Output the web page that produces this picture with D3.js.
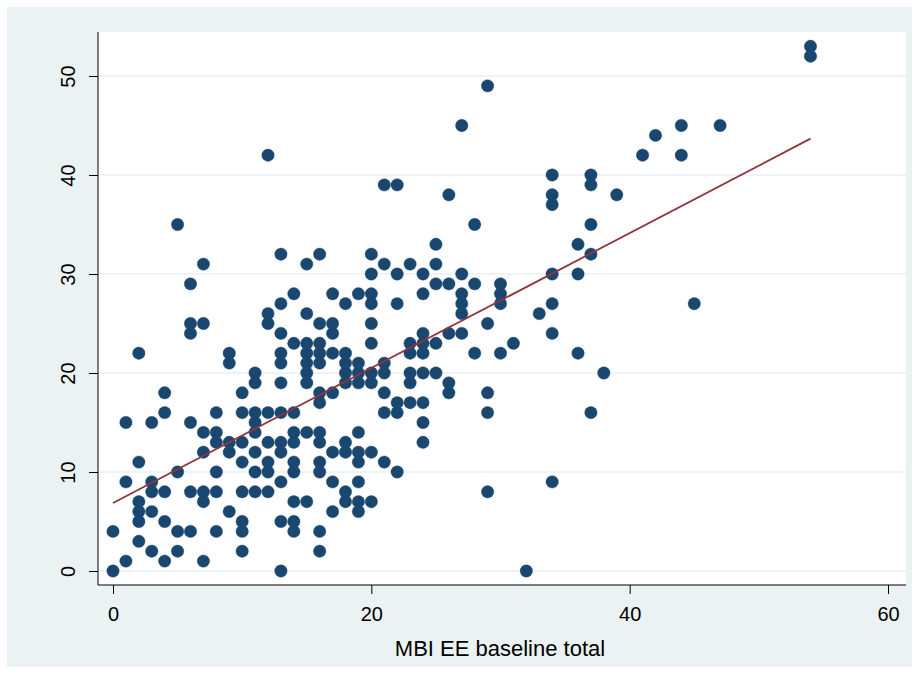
<!DOCTYPE html>
<html>
<head>
<meta charset="utf-8">
<script src="https://cdn.jsdelivr.net/npm/d3@7"></script>
<style>
  html, body { margin: 0; padding: 0; background: #ffffff; }
  svg { display: block; }
  text { font-family: "Liberation Sans", Arial, Helvetica, sans-serif; fill: #000; }
</style>
</head>
<body>
<svg id="chart" width="915" height="673"></svg>
<script>
// MBI emotional exhaustion: baseline total (x) against follow-up total (y)
const baselineEE = [
  0, 0,
  1, 1, 1,
  2, 2, 2, 2, 2, 2,
  3, 3, 3, 3, 3,
  4, 4, 4, 4, 4,
  5, 5, 5, 5,
  6, 6, 6, 6, 6, 6,
  7, 7, 7, 7, 7, 7, 7,
  8, 8, 8, 8, 8, 8,
  9, 9, 9, 9, 9,
  10, 10, 10, 10, 10, 10, 10, 10,
  11, 11, 11, 11, 11, 11, 11, 11,
  12, 12, 12, 12, 12, 12, 12, 12,
  13, 13, 13, 13, 13, 13, 13, 13, 13, 13, 13, 13,
  14, 14, 14, 14, 14, 14, 14, 14, 14, 14,
  15, 15, 15, 15, 15, 15, 15, 15, 15,
  16, 16, 16, 16, 16, 16, 16, 16, 16, 16, 16, 16, 16,
  17, 17, 17, 17, 17, 17, 17, 17,
  18, 18, 18, 18, 18, 18, 18, 18, 18,
  19, 19, 19, 19, 19, 19, 19, 19, 19, 19,
  20, 20, 20, 20, 20, 20, 20, 20, 20, 20,
  21, 21, 21, 21, 21, 21, 21,
  22, 22, 22, 22, 22, 22,
  23, 23, 23, 23, 23, 23,
  24, 24, 24, 24, 24, 24, 24, 24, 24,
  25, 25, 25, 25, 25,
  26, 26, 26, 26, 26,
  27, 27, 27, 27, 27, 27,
  28, 28, 28,
  29, 29, 29, 29, 29,
  30, 30, 30, 30,
  31,
  32,
  33,
  34, 34, 34, 34, 34, 34, 34,
  36, 36, 36,
  37, 37, 37, 37, 37,
  38,
  39,
  41,
  42,
  44, 44,
  45,
  47,
  54, 54
];

const followupEE = [
  0, 4,
  1, 9, 15,
  3, 5, 6, 7, 11, 22,
  2, 6, 8, 9, 15,
  1, 5, 8, 16, 18,
  2, 4, 10, 35,
  4, 8, 15, 24, 25, 29,
  1, 7, 8, 12, 14, 25, 31,
  4, 8, 10, 13, 14, 16,
  6, 12, 13, 21, 22,
  2, 4, 5, 8, 11, 13, 16, 18,
  8, 10, 12, 14, 15, 16, 19, 20,
  8, 10, 11, 13, 16, 25, 26, 42,
  0, 5, 9, 12, 13, 16, 19, 21, 22, 24, 27, 32,
  4, 5, 7, 10, 11, 13, 14, 16, 23, 28,
  7, 14, 19, 20, 21, 22, 23, 26, 31,
  2, 4, 10, 11, 13, 14, 17, 18, 21, 22, 23, 25, 32,
  6, 9, 12, 18, 22, 24, 25, 28,
  7, 8, 12, 13, 19, 20, 21, 22, 27,
  6, 7, 9, 11, 12, 14, 19, 20, 21, 28,
  7, 12, 19, 20, 23, 25, 27, 28, 30, 32,
  11, 16, 18, 20, 21, 31, 39,
  10, 16, 17, 27, 30, 39,
  17, 19, 20, 22, 23, 31,
  13, 15, 17, 20, 22, 23, 24, 28, 30,
  20, 23, 29, 31, 33,
  18, 19, 24, 29, 38,
  24, 26, 27, 28, 30, 45,
  22, 29, 35,
  8, 16, 18, 25, 49,
  22, 27, 28, 29,
  23,
  0,
  26,
  9, 24, 27, 30, 37, 38, 40,
  22, 30, 33,
  16, 32, 35, 39, 40,
  20,
  38,
  42,
  44,
  42, 45,
  27,
  45,
  52, 53
];

const xTicks = [0, 20, 40, 60];
const yTicks = [0, 10, 20, 30, 40, 50];
const xTitle = "MBI EE baseline total";

const points = baselineEE.map((v, i) => ({ x: v, y: followupEE[i] }));

// Ordinary least-squares fit for the linear prediction line
const mx = d3.mean(points, d => d.x);
const my = d3.mean(points, d => d.y);
const sxy = d3.sum(points, d => (d.x - mx) * (d.y - my));
const sxx = d3.sum(points, d => (d.x - mx) * (d.x - mx));
const slope = sxy / sxx;
const intercept = my - slope * mx;
const [xMin, xMax] = d3.extent(baselineEE);
const fitLine = [xMin, xMax].map(v => ({ x: v, y: intercept + slope * v }));

const svg = d3.select("#chart");
const W = 915, H = 673;

// Plot region edges
const plotLeft = 98, plotRight = 906, plotTop = 32, plotBottom = 585;

const xScale = d3.scaleLinear().domain([0, 60]).range([113, 888]);
const yScale = d3.scaleLinear().domain([0, 50]).range([571, 76]);

const navy = "#1a476f";
const maroon = "#90353b";
const bgColor = "#eaf2f3";

// Graph region background
svg.append("rect").attr("x", 0).attr("y", 0).attr("width", W).attr("height", H).attr("fill", "#ffffff");
svg.append("rect").attr("x", 7).attr("y", 7).attr("width", 905).attr("height", 660).attr("fill", bgColor);

// Plot region
svg.append("rect")
  .attr("x", plotLeft).attr("y", plotTop)
  .attr("width", plotRight - plotLeft).attr("height", plotBottom - plotTop)
  .attr("fill", "#ffffff");

// Horizontal grid lines
svg.append("g").selectAll("line")
  .data(yTicks)
  .join("line")
  .attr("x1", plotLeft).attr("x2", plotRight)
  .attr("y1", d => yScale(d)).attr("y2", d => yScale(d))
  .attr("stroke", "#e8f0f2")
  .attr("stroke-width", 1.6);

// Scatter markers
svg.append("g").selectAll("circle")
  .data(points)
  .join("circle")
  .attr("cx", d => xScale(d.x))
  .attr("cy", d => yScale(d.y))
  .attr("r", 6.2)
  .attr("fill", navy)
  .attr("stroke", navy)
  .attr("stroke-width", 0.4);

// Fitted values line
svg.append("path")
  .datum(fitLine)
  .attr("fill", "none")
  .attr("stroke", maroon)
  .attr("stroke-width", 1.8)
  .attr("d", d3.line().x(d => xScale(d.x)).y(d => yScale(d.y)));

// Y axis
const yAxis = svg.append("g")
  .attr("transform", `translate(${plotLeft},0)`)
  .call(d3.axisLeft(yScale).tickValues(yTicks).tickSize(9).tickPadding(0).tickFormat(d3.format("d")));
yAxis.select(".domain").remove();
yAxis.append("line")
  .attr("x1", 0).attr("x2", 0).attr("y1", plotTop).attr("y2", plotBottom)
  .attr("stroke", "#000").attr("stroke-width", 1);
yAxis.selectAll(".tick line").attr("stroke", "#000");
yAxis.selectAll(".tick text")
  .attr("x", 0).attr("dy", null)
  .attr("text-anchor", "middle")
  .attr("transform", "translate(-28,0) rotate(-90)")
  .attr("dominant-baseline", "middle")
  .style("font-size", "20px")
  .style("font-family", "'Liberation Sans', Arial, sans-serif");

// X axis
const xAxis = svg.append("g")
  .attr("transform", `translate(0,${plotBottom})`)
  .call(d3.axisBottom(xScale).tickValues(xTicks).tickSize(9).tickPadding(0).tickFormat(d3.format("d")));
xAxis.select(".domain").remove();
xAxis.append("line")
  .attr("x1", plotLeft).attr("x2", plotRight).attr("y1", 0).attr("y2", 0)
  .attr("stroke", "#000").attr("stroke-width", 1);
xAxis.selectAll(".tick line").attr("stroke", "#000");
xAxis.selectAll(".tick text")
  .attr("y", 36).attr("dy", null)
  .style("font-size", "20px")
  .style("font-family", "'Liberation Sans', Arial, sans-serif");

// X axis title
svg.append("text")
  .attr("x", 500).attr("y", 656)
  .attr("text-anchor", "middle")
  .style("font-size", "22px")
  .text(xTitle);
</script>
</body>
</html>
